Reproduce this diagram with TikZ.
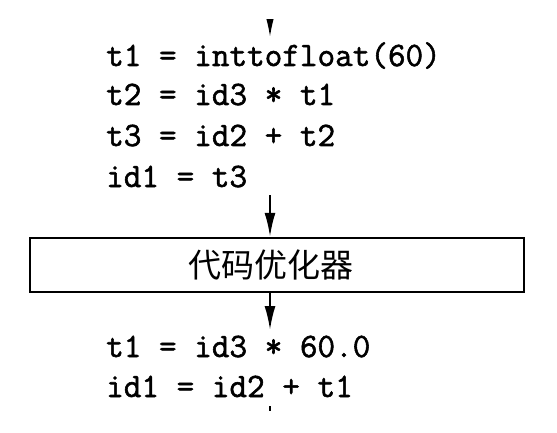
\documentclass[tikz,border=0pt]{standalone}
\usepackage{fontspec}
\newfontfamily\cjk{Noto Sans CJK SC}
\newfontfamily\codefont{Latin Modern Mono}[FakeBold=1.6]
\usetikzlibrary{arrows.meta}
\tikzset{
  codeline/.style={anchor=base west, inner sep=0pt, font=\codefont\fontsize{34.2}{40}\selectfont},
  stagebox/.style={draw, line width=2.4pt, minimum width=494pt, minimum height=54pt, inner sep=0pt},
  stagetext/.style={inner sep=0pt, font=\cjk\fontsize{33}{36}\selectfont},
  flow/.style={line width=2pt, -{Latex[length=24pt,width=11pt]}},
}
\begin{document}
\begin{tikzpicture}[x=1pt,y=-1pt]
\useasboundingbox (0,0) rectangle (557,433);
% top arrow, cut off
\coordinate (topstart) at (270,-20);
\coordinate (toptip) at (270,37);
\begin{scope}
\clip (0,20) rectangle (557,433);
\draw[flow] (topstart) -- (toptip);
\end{scope}
\node[codeline] (l1) at (106,66) {t1 = inttofloat(60)};
\node[codeline] (l2) at (106,105) {t2 = id3 * t1};
\node[codeline] (l3) at (106,146) {t3 = id2 + t2};
\node[codeline] (l4) at (106,187) {id1 = t3};
\node[stagebox] (opt) at (277,265) {};
\node[stagetext] (optt) at (270.5,265) {代码优化器};
\coordinate (a1) at (270,195);
\draw[flow] (a1) -- (a1 |- opt.north);
\coordinate (a2) at (270,330);
\draw[flow] (a2 |- opt.south) -- (a2);
\node[codeline] (m1) at (106,357) {t1 = id3 * 60.0};
\node[codeline] (m2) at (106,397) {id1 = id2 + t1};
% next arrow, cut off
\coordinate (botstart) at (270,406);
\coordinate (botend) at (270,430);
\begin{scope}
\clip (0,0) rectangle (557,410);
\draw[line width=2pt] (botstart) -- (botend);
\end{scope}
\end{tikzpicture}
\end{document}
